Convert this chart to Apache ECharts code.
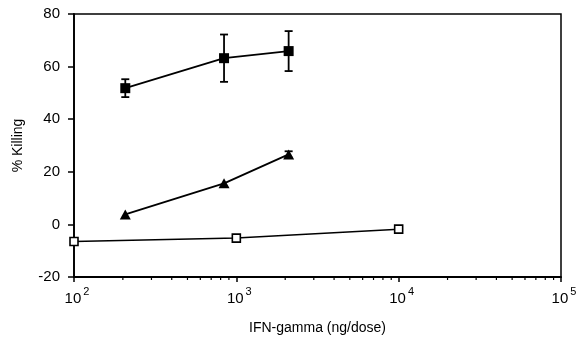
<!DOCTYPE html>
<html><head><meta charset="utf-8">
<script src="https://cdn.jsdelivr.net/npm/echarts@6/dist/echarts.min.js"></script>
<style>html,body{margin:0;padding:0;background:#fff}#c{width:582px;height:341px}</style>
</head><body><div id="c"></div>
<script>
// Data
var filledX = [207, 840, 2100];
var filledY = [51.8, 63.2, 65.9];
var filledErr = [3.4, 9.0, 7.6];
var triX = [207, 840, 2100];
var triY = [3.8, 15.6, 26.6];
var triErr = [0, 0, 1.2];
var openX = [100, 1000, 10000];
var openY = [-6.5, -5.2, -1.8];
var yTicks = [-20, 0, 20, 40, 60, 80];
var minorTicks = [];
[100, 1000, 10000].forEach(function (d) { for (var m = 2; m <= 9; m++) minorTicks.push(m * d); });

var font = 'Liberation Sans, Arial, sans-serif';
function errData(xs, ys, es) { return xs.map(function (x, i) { return [x, ys[i] - es[i], ys[i] + es[i]]; }); }
function errSeries(xs, ys, es) {
  return {
    type: 'custom', data: errData(xs, ys, es), z: 1,
    renderItem: function (params, api) {
      var lo = api.coord([api.value(0), api.value(1)]);
      var hi = api.coord([api.value(0), api.value(2)]);
      if (Math.abs(hi[1] - lo[1]) < 1) return null;
      var w = 4;
      var st = { stroke: '#000', lineWidth: 1.8 };
      return { type: 'group', children: [
        { type: 'line', shape: { x1: lo[0], y1: lo[1], x2: hi[0], y2: hi[1] }, style: st },
        { type: 'line', shape: { x1: lo[0] - w, y1: lo[1], x2: lo[0] + w, y2: lo[1] }, style: st },
        { type: 'line', shape: { x1: hi[0] - w, y1: hi[1], x2: hi[0] + w, y2: hi[1] }, style: st }
      ]};
    }
  };
}
var chart = echarts.init(document.getElementById('c'), null, { renderer: 'canvas' });
chart.setOption({
  animation: false,
  grid: { left: 74, right: 21, top: 14, bottom: 64, show: true, borderColor: '#000', borderWidth: 1.5, backgroundColor: 'transparent' },
  xAxis: {
    type: 'log', logBase: 10, min: 100, max: 100000,
    name: 'IFN-gamma (ng/dose)', nameLocation: 'middle', nameGap: 44,
    nameTextStyle: { fontFamily: font, fontSize: 14, color: '#000' },
    axisLine: { onZero: false, lineStyle: { color: '#000', width: 1.8 } },
    axisTick: { show: true, length: 5, inside: false, lineStyle: { color: '#000', width: 1.5 } },
    splitLine: { show: false },
    minorTick: { show: false },
    axisLabel: {
      margin: 9,
      formatter: function (v) { return '{b|10}{s|' + Math.round(Math.log10(v)) + '}'; },
      rich: {
        b: { fontFamily: font, fontSize: 15, color: '#000', verticalAlign: 'bottom', padding: [5, 0, 0, 6] },
        s: { fontFamily: font, fontSize: 11, color: '#000', verticalAlign: 'top', padding: [0, 0, 5, 2] }
      }
    }
  },
  yAxis: {
    type: 'value', min: -20, max: 80, interval: 20,
    name: '% Killing', nameLocation: 'middle', nameGap: 49, nameRotate: 90,
    nameTextStyle: { fontFamily: font, fontSize: 14, color: '#000' },
    axisLine: { show: true, lineStyle: { color: '#000', width: 1.8 } },
    axisTick: { show: true, length: 6, inside: false, lineStyle: { color: '#000', width: 1.5 } },
    splitLine: { show: false },
    axisLabel: { margin: 14, fontFamily: font, fontSize: 15, color: '#000',
      formatter: function (v) { return yTicks.indexOf(v) >= 0 ? String(v) : ''; } }
  },
  series: [
    {
      type: 'custom', data: minorTicks.map(function (m) { return [m, -20]; }), clip: false, silent: true, z: 0,
      renderItem: function (params, api) {
        var p = api.coord([api.value(0), -20]);
        return { type: 'line', shape: { x1: p[0], y1: p[1], x2: p[0], y2: p[1] + 3 }, style: { stroke: '#000', lineWidth: 1.2 } };
      }
    },
    errSeries(filledX, filledY, filledErr),
    errSeries(triX, triY, triErr),
    { type: 'line', data: filledX.map(function (x, i) { return [x, filledY[i]]; }), symbol: 'rect', symbolSize: 10,
      itemStyle: { color: '#000' }, lineStyle: { color: '#000', width: 1.8 }, z: 3 },
    { type: 'line', data: triX.map(function (x, i) { return [x, triY[i]]; }), symbol: 'triangle', symbolSize: [11, 10],
      itemStyle: { color: '#000' }, lineStyle: { color: '#000', width: 1.8 }, z: 3 },
    { type: 'line', data: openX.map(function (x, i) { return [x, openY[i]]; }), symbol: 'rect', symbolSize: 8,
      itemStyle: { color: '#fff', borderColor: '#000', borderWidth: 1.6 }, lineStyle: { color: '#000', width: 1.5 }, z: 3 }
  ]
});
</script></body></html>
